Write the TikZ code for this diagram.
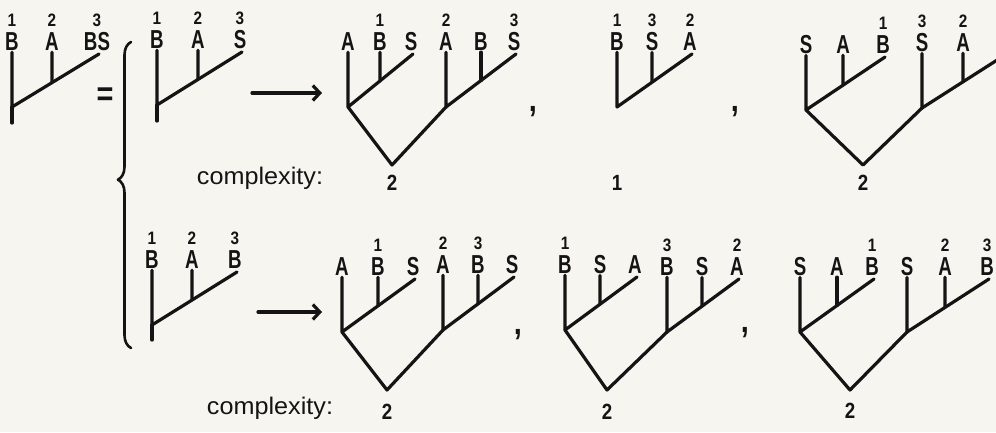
\documentclass[tikz,border=0pt]{standalone}
\usepackage{fontspec}
\usetikzlibrary{calc,positioning,arrows.meta,decorations.pathreplacing}
\newfontfamily\handfont[FakeStretch=0.72]{Liberation Sans}
\newfontfamily\numfont[FakeStretch=0.85]{Liberation Sans}
\newfontfamily\notefont[FakeStretch=1.05]{Liberation Sans}
\definecolor{ink}{RGB}{20,20,20}
\definecolor{paper}{RGB}{247,245,239}
\tikzset{
  taxon/.style={inner sep=1pt,text=ink,font=\handfont\bfseries\fontsize{26}{26}\selectfont},
  area/.style={inner sep=1pt,text=ink,font=\numfont\bfseries\fontsize{18}{18}\selectfont},
  score/.style={inner sep=1pt,text=ink,font=\numfont\bfseries\fontsize{22}{22}\selectfont},
  note/.style={inner sep=1pt,text=ink,font=\notefont\fontsize{24}{24}\selectfont},
  sep/.style={inner sep=1pt,text=ink,font=\numfont\bfseries\fontsize{34}{34}\selectfont},
  branch/.style={draw=ink,line width=3.2pt,line cap=round,line join=round},
  arr/.style={branch,-{Straight Barb[length=7pt,width=15pt]}}
}
% #1 name, #2-#4 tip x, #5 root y, #6-#8 taxa
\newcommand{\clade}[8]{%
  \coordinate (#1-r) at (#2,#5);
  \coordinate (#1-e) at (#4+2,#5-53);
  \node[taxon] (#1-1) at (#2,#5-65) {#6};
  \node[taxon] (#1-2) at (#3,#5-65) {#7};
  \node[taxon] (#1-3) at (#4,#5-65) {#8};
  \pgfmathsetmacro\cladefrac{(#3-#2)/(#4+2-#2)}
  \coordinate (#1-m) at ($(#1-r)!\cladefrac!(#1-e)$);
  \draw[branch] (#1-1) -- (#1-r) -- (#1-e);
  \draw[branch] (#1-2) -- (#1-m);
}

\begin{document}
\begin{tikzpicture}[x=1pt,y=-1pt]
  \fill[paper] (0,0) rectangle (996,432);
  \clip (0,0) rectangle (996,432);
  % left side: area cladogram and its two readings
  \clade{p}{12}{52}{97}{107}{B}{A}{BS}
  \coordinate (p-s) at (12,123);
  \draw[branch] (p-r) -- (p-s);
  \node[area,above=4pt of p-1] (p-n1) {1};
  \node[area,above=4pt of p-2] (p-n2) {2};
  \node[area,above=4pt of p-3] (p-n3) {3};
  \node[sep] (eq) at (105,97) {=};
  \draw[branch,line width=2.6pt,decorate,decoration={brace,amplitude=13pt,aspect=0.55}]
    (131,348) -- (131,42);

  \clade{q}{157}{198}{240}{105}{B}{A}{S}
  \coordinate (q-s) at (157,121);
  \draw[branch] (q-r) -- (q-s);
  \node[area,above=4pt of q-1] (q-n1) {1};
  \node[area,above=4pt of q-2] (q-n2) {2};
  \node[area,above=4pt of q-3] (q-n3) {3};

  \clade{r}{152}{192}{235}{325}{B}{A}{B}
  \coordinate (r-s) at (152,340);
  \draw[branch] (r-r) -- (r-s);
  \node[area,above=4pt of r-1] (r-n1) {1};
  \node[area,above=4pt of r-2] (r-n2) {2};
  \node[area,above=4pt of r-3] (r-n3) {3};

  \coordinate (ar1) at (252,93);
  \coordinate (ar1e) at (322,93);
  \draw[arr] (ar1) -- (ar1e);
  \coordinate (ar2) at (258,312);
  \coordinate (ar2e) at (322,312);
  \draw[arr] (ar2) -- (ar2e);

  % top row of species cladograms
  \clade{ta}{348}{380}{411}{107}{A}{B}{S}
  \clade{tb}{446}{481}{514}{107}{A}{B}{S}
  \coordinate (t-o) at (392,165);
  \draw[branch] (ta-r) -- (t-o) -- (tb-r);
  \node[area,above=4pt of ta-2] (ta-n) {1};
  \node[area,above=4pt of tb-1] (tb-n1) {2};
  \node[area,above=4pt of tb-3] (tb-n3) {3};
  \node[sep] (cm1) at (533,112) {,};

  \clade{u}{617}{652}{690}{107}{B}{S}{A}
  \node[area,above=4pt of u-1] (u-n1) {1};
  \node[area,above=4pt of u-2] (u-n2) {3};
  \node[area,above=4pt of u-3] (u-n3) {2};
  \node[sep] (cm2) at (735,112) {,};

  \clade{va}{806}{843}{883}{110}{S}{A}{B}
  \clade{vb}{922}{963}{1003}{108}{S}{A}{}
  \coordinate (v-o) at (863,165);
  \draw[branch] (va-r) -- (v-o) -- (vb-r);
  \node[area,above=4pt of va-3] (va-n) {1};
  \node[area,above=4pt of vb-1] (vb-n1) {3};
  \node[area,above=4pt of vb-2] (vb-n2) {2};

  \node[note] (cx1) at (260,178) {complexity:};
  \node[score] (t-c) at (392,183) {2};
  \node[score] (u-c) at (617,183) {1};
  \node[score] (v-c) at (863,183) {2};

  % bottom row of species cladograms
  \clade{wa}{342}{378}{413}{332}{A}{B}{S}
  \clade{wb}{443}{478}{512}{330}{A}{B}{S}
  \coordinate (w-o) at (387,390);
  \draw[branch] (wa-r) -- (w-o) -- (wb-r);
  \node[area,above=4pt of wa-2] (wa-n) {1};
  \node[area,above=4pt of wb-1] (wb-n1) {2};
  \node[area,above=4pt of wb-2] (wb-n2) {3};
  \node[sep] (cm3) at (518,335) {,};

  \clade{xa}{565}{600}{635}{330}{B}{S}{A}
  \clade{xb}{667}{702}{737}{332}{B}{S}{A}
  \coordinate (x-o) at (607,390);
  \draw[branch] (xa-r) -- (x-o) -- (xb-r);
  \node[area,above=4pt of xa-1] (xa-n) {1};
  \node[area,above=4pt of xb-1] (xb-n1) {3};
  \node[area,above=4pt of xb-3] (xb-n3) {2};
  \node[sep] (cm4) at (745,333) {,};

  \clade{ya}{800}{837}{872}{332}{S}{A}{B}
  \clade{yb}{907}{945}{987}{332}{S}{A}{B}
  \coordinate (y-o) at (850,390);
  \draw[branch] (ya-r) -- (y-o) -- (yb-r);
  \node[area,above=4pt of ya-3] (ya-n) {1};
  \node[area,above=4pt of yb-2] (yb-n2) {2};
  \node[area,above=4pt of yb-3] (yb-n3) {3};

  \node[note] (cx2) at (270,408) {complexity:};
  \node[score] (w-c) at (387,412) {2};
  \node[score] (x-c) at (607,412) {2};
  \node[score] (y-c) at (850,411) {2};
\end{tikzpicture}
\end{document}
